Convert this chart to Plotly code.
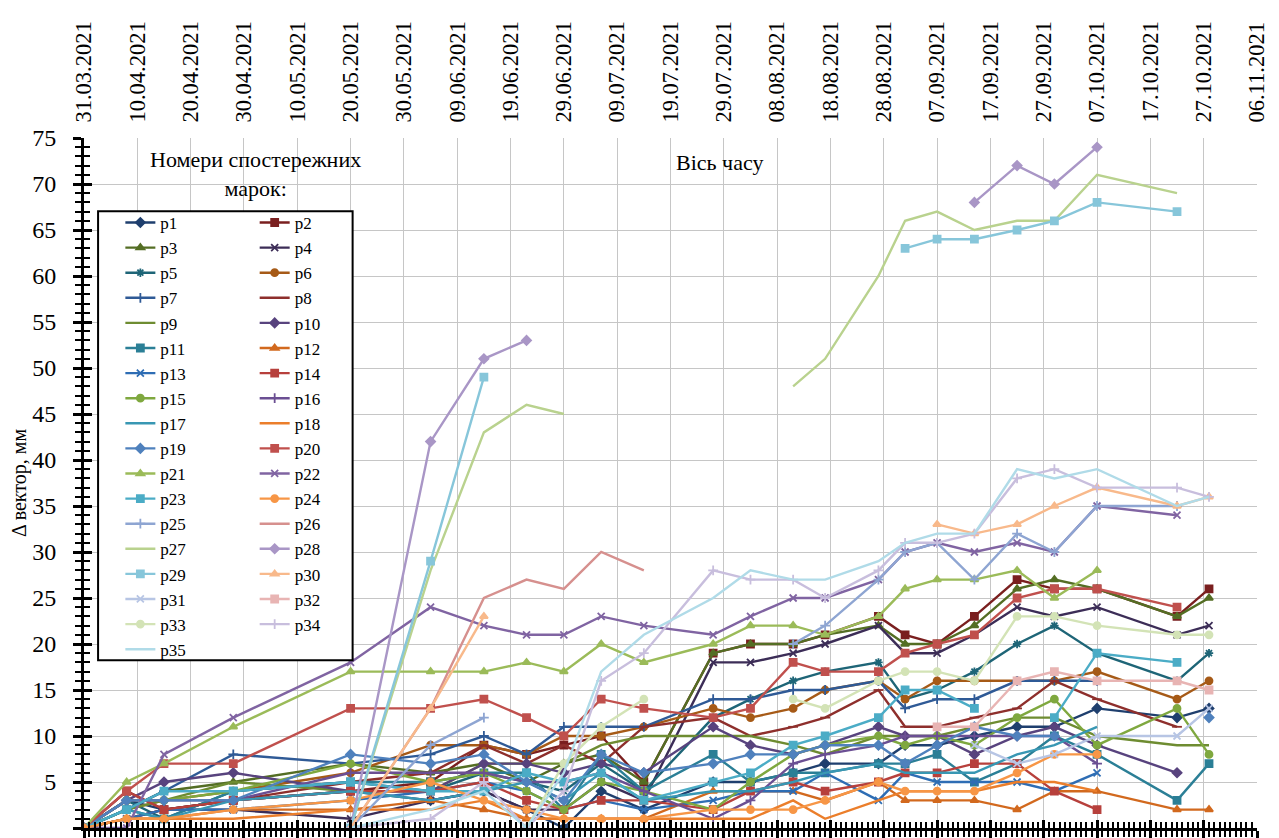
import plotly.graph_objects as go

N = None

# observation dates
dates = ['2021-03-31', '2021-04-08', '2021-04-15', '2021-04-28', '2021-05-20', '2021-06-04',
         '2021-06-14', '2021-06-22', '2021-06-29', '2021-07-06', '2021-07-14', '2021-07-27',
         '2021-08-03', '2021-08-11', '2021-08-17', '2021-08-27', '2021-09-01', '2021-09-07',
         '2021-09-14', '2021-09-22', '2021-09-29', '2021-10-07', '2021-10-22', '2021-10-28']

# displacement vector per mark, mm
p1 = [0, 3, 2, 3, 4, 3, 4, 2, 0, 4, 2, 5, 5, 6, 7, 7, 9, 9, 10, 11, 11, 13, 12, 13]
p2 = [0, 4, 2, 3, 4, 5, 9, 8, 9, 10, 5, 19, 20, 20, 21, 23, 21, 20, 23, 27, 26, 26, 23, 26]
p3 = [0, 2, 4, 5, 7, 6, 7, 5, 7, 8, 5, 19, 20, 20, 21, 22, 20, 20, 22, 26, 27, 26, 23, 25]
p4 = [0, 1, 2, 2, 1, 3, 4, 2, 2, 5, 3, 18, 18, 19, 20, 22, 19, 19, 21, 24, 23, 24, 21, 22]
p5 = [0, 3, 1, 4, 5, 4, 6, 5, 4, 7, 4, 12, 14, 16, 17, 18, 14, 15, 17, 20, 22, 19, 16, 19]
p6 = [0, 2, 3, 4, 6, 9, 9, 8, 10, 10, 11, 13, 12, 13, 15, 16, 14, 16, 16, 16, 16, 17, 14, 16]
p7 = [0, 2, 4, 8, 7, 8, 10, 8, 11, 11, 11, 14, 14, 15, 15, 16, 13, 14, 14, 16, 16, 16, N, N]
p8 = [0, 1, 2, 3, 5, 6, 9, 7, 9, 7, 11, 12, 10, 11, 12, 15, 11, 11, 12, 13, 16, 14, 11, N]
p9 = [0, 2, 3, 5, 4, 4, 7, 7, 7, 9, 10, 10, 10, 9, 8, 10, 10, 10, 11, 12, 12, 10, 9, 9]
p10 = [0, 3, 5, 6, 4, 4, 7, 7, 6, 7, 6, 11, 9, 8, 9, 11, 10, 10, 8, 10, 11, 9, 6, N]
p11 = [0, 2, 1, 4, 5, 5, 6, 6, 2, 8, 4, 8, 5, 6, 6, 7, 7, 8, 5, 7, 10, 8, 3, 7]
p12 = [0, 1, 1, 2, 2, 3, 2, 1, 1, 1, 1, 4, 4, 4, 3, 5, 3, 3, 3, 2, 4, 4, 2, 2]
p13 = [0, 1, 2, 2, 3, 4, 5, 4, 2, 3, 2, 3, 4, 4, 6, 3, 6, 5, 5, 5, 4, 6, N, N]
p14 = [0, 4, 2, 3, 4, 4, 5, 3, 2, 3, 3, 2, 4, 5, 4, 5, 6, 6, 7, 7, 4, 2, N, N]
p15 = [0, 3, 3, 4, 7, 5, 6, 4, 2, 5, 4, 2, 5, 8, 9, 10, 9, 10, 9, 12, 14, 9, 13, 8]
p16 = [0, 3, 3, 3, 6, 6, 6, 5, 5, 6, 4, 1, 3, 7, 8, 9, 10, 10, 10, 10, 10, 7, N, N]
p17 = [0, 2, 1, 3, 4, 3, 4, 5, 3, 6, 3, 4, 4, 5, 6, 7, 6, 6, 6, 8, 9, 11, N, N]
p18 = [0, 1, 1, 1, 2, 2, 3, 1, 1, 1, 1, 1, 1, 3, 1, 3, 4, 4, 4, 5, 5, 4, N, N]
p19 = [0, 3, 3, 3, 8, 7, 8, 5, 3, 8, 6, 7, 8, 8, 9, 9, 7, 9, 11, 10, 10, N, N, 12]
p20 = [0, 4, 7, 7, 13, 13, 14, 12, 10, 14, 13, 12, 13, 18, 17, 17, 19, 20, 21, 25, 26, 26, 24, N]
p21 = [0, 5, 7, 11, 17, 17, 17, 18, 17, 20, 18, 20, 22, 22, 21, 23, 26, 27, 27, 28, 25, 28, N, N]
p22 = [0, 0, 8, 12, 18, 24, 22, 21, 21, 23, 22, 21, 23, 25, 25, 27, 30, 31, 30, 31, 30, 35, 34, N]
p23 = [0, 2, 4, 4, 5, 4, 4, 6, 5, 6, 3, 5, 6, 9, 10, 12, 15, 15, 13, N, 12, 19, 18, N]
p24 = [0, 1, 1, 2, 3, 5, 3, 2, 1, 1, 1, 2, 2, 2, 3, 5, 4, 4, 4, 6, 8, 8, N, N]
p25 = [N, N, N, N, 0, 9, 12, N, N, N, N, N, N, 20, 22, 27, 30, 31, 27, 32, 30, 35, 35, N]
p26 = [N, N, N, N, 0, 13, 25, 27, 26, 30, 28, N, N, N, N, N, N, N, N, N, N, N, N, N]
p27 = [N, N, N, N, 0, 28, 43, 46, 45, N, N, N, N, 48, 51, 60, 66, 67, 65, 66, 66, 71, 69, N]
p28 = [N, N, N, N, 0, 42, 51, 53, N, N, N, N, N, N, N, N, N, N, 68, 72, 70, 74, N, N]
p29 = [N, N, N, N, 0, 29, 49, N, N, N, N, N, N, N, N, N, 63, 64, 64, 65, 66, 68, 67, N]
p30 = [N, N, N, N, 0, 13, 23, N, N, N, N, N, N, N, N, N, N, 33, 32, 33, 35, 37, 35, 36]
p31 = [N, N, N, N, N, N, N, N, N, N, N, N, N, N, N, N, N, N, 9, 7, 8, 10, 10, 13]
p32 = [N, N, N, N, N, N, N, N, N, N, N, N, N, N, N, N, N, 11, 11, 16, 17, 16, 16, 15]
p33 = [N, N, N, N, N, N, N, 0, 7, 11, 14, N, N, 14, 13, 16, 17, 17, 16, 23, 23, 22, 21, 21]
p34 = [N, N, N, N, 0, 1, 5, 0, 4, 16, 19, 28, 27, 27, 25, 28, 31, 31, 32, 38, 39, 37, 37, 36]
p35 = [N, N, N, N, 0, 2, 4, 0, 6, 17, 21, 25, 28, 27, 27, 29, 31, 32, 32, 39, 38, 39, 35, 36]

series = [p1, p2, p3, p4, p5, p6, p7, p8, p9, p10, p11, p12, p13, p14, p15, p16, p17, p18,
          p19, p20, p21, p22, p23, p24, p25, p26, p27, p28, p29, p30, p31, p32, p33, p34, p35]
names = ['p%d' % (i + 1) for i in range(len(series))]

# six colour families, darker -> lighter shades
shades = [
    ['#1F3F6E', '#7A1F1F', '#546E24', '#3C2D57', '#1E6577', '#A65A17'],
    ['#2F5A96', '#8E2F2C', '#6E8C31', '#58437E', '#2B7F96', '#D2691E'],
    ['#2E6DB4', '#B7403C', '#7FA83F', '#6B4F93', '#3897B3', '#EB7E2B'],
    ['#4F81BD', '#C0504D', '#9BBB59', '#8064A2', '#4BACC6', '#F79646'],
    ['#8EA5D2', '#D6908E', '#B9D28E', '#A996C6', '#87C6DA', '#F8B98B'],
    ['#B7C5E4', '#E8B4B3', '#D3E3B6', '#C8BEDD', '#B0DBE8', '#F8CBAD'],
]
symbols = ['diamond', 'square', 'triangle-up', 'x-thin', 'asterisk', 'circle',
           'cross-thin', 'line-ew', None, 'diamond', 'square', 'triangle-up',
           'x-thin', 'square', 'circle', 'cross-thin', None, None,
           'diamond', 'square', 'triangle-up', 'x-thin', 'square', 'circle',
           'cross-thin', None, None, 'diamond', 'square', 'triangle-up',
           'x-thin', 'square', 'circle', 'cross-thin', None]

serif = 'Liberation Serif, Times New Roman, serif'
grid = '#C6C6C6'
DAY = 86400000

fig = go.Figure()
for i, vals in enumerate(series):
    c = shades[i // 6][i % 6]
    sym = symbols[i]
    fig.add_trace(go.Scatter(
        x=dates, y=vals, name=names[i],
        mode='lines' if sym is None else 'lines+markers',
        line=dict(color=c, width=2.4),
        marker=dict(symbol=sym or 'circle', size=7, color=c, line=dict(color=c, width=1.8)),
        legend='legend' if i % 2 == 0 else 'legend2',
        connectgaps=False,
    ))

# empty traces so the extra tick axes get drawn
fig.add_trace(go.Scatter(x=[N], y=[N], xaxis='x2', yaxis='y2', showlegend=False, hoverinfo='skip'))
fig.add_trace(go.Scatter(x=[N], y=[N], xaxis='x3', yaxis='y2', showlegend=False, hoverinfo='skip'))

xrange = ['2021-03-31', '2021-11-06']
# page body has an 8px margin, so the figure is 8px smaller and shifted
fig.update_layout(
    width=1271, height=830,
    margin=dict(l=76, r=22, t=130, b=10),
    paper_bgcolor='white', plot_bgcolor='white',
    font=dict(family=serif, size=22, color='black'),
    xaxis=dict(type='date', range=xrange, side='top', anchor='y', automargin=False,
               tick0='2021-03-31', dtick=10 * DAY, tickformat='%d.%m.%Y', tickangle=-90,
               ticks='outside', ticklen=10, tickcolor='rgba(0,0,0,0)',
               tickfont=dict(family=serif, size=22.5, color='black'),
               showgrid=True, gridcolor=grid, gridwidth=1.3, showline=False, zeroline=False),
    xaxis2=dict(type='date', range=xrange, overlaying='x', side='bottom', anchor='y2', automargin=False,
                showticklabels=False, showgrid=False, zeroline=False,
                showline=True, linecolor='black', linewidth=3,
                tick0='2021-03-31', dtick=10 * DAY, ticks='outside', ticklen=8, tickwidth=2.5, tickcolor='black',
                minor=dict(tick0='2021-03-31', dtick=DAY, ticks='outside', ticklen=6, tickwidth=2, tickcolor='black')),
    xaxis3=dict(type='date', range=xrange, overlaying='x', side='bottom', anchor='y2', automargin=False,
                showticklabels=False, showgrid=False, zeroline=False, showline=False,
                tick0='2021-03-31', dtick=10 * DAY, ticks='inside', ticklen=8, tickwidth=2.5, tickcolor='black',
                minor=dict(tick0='2021-03-31', dtick=DAY, ticks='inside', ticklen=6, tickwidth=2, tickcolor='black')),
    yaxis=dict(range=[0, 75], dtick=5, anchor='x', automargin=False,
               showgrid=True, gridcolor=grid, gridwidth=1.3,
               zeroline=False, showline=True, linecolor='black', linewidth=3,
               ticks='outside', ticklen=8, tickwidth=2.5, tickcolor='black',
               minor=dict(dtick=1, ticks='outside', ticklen=6, tickwidth=2, tickcolor='black'),
               tickfont=dict(family=serif, size=24, color='black'), ticklabelstandoff=12,
               title=dict(text='Δ вектор, мм', font=dict(family=serif, size=20), standoff=6)),
    yaxis2=dict(range=[0, 75], overlaying='y', side='left', anchor='x2', automargin=False,
                showgrid=False, zeroline=False, showticklabels=False, showline=False,
                dtick=5, ticks='inside', ticklen=8, tickwidth=2.5, tickcolor='black',
                minor=dict(dtick=1, ticks='inside', ticklen=6, tickwidth=2, tickcolor='black')),
    legend=dict(x=0.031, y=0.903, xanchor='left', yanchor='top', bgcolor='rgba(0,0,0,0)',
                font=dict(family=serif, size=17, color='black'), tracegroupgap=0, borderwidth=0),
    legend2=dict(x=0.1455, y=0.903, xanchor='left', yanchor='top', bgcolor='rgba(0,0,0,0)',
                 font=dict(family=serif, size=17, color='black'), tracegroupgap=0, borderwidth=0),
    showlegend=True,
)

# white patches behind the captions, legend frame
fig.add_shape(type='rect', xref='paper', yref='paper', x0=0.0, x1=0.2805, y0=0.899, y1=1.003,
              fillcolor='white', line=dict(width=0), layer='between')
fig.add_shape(type='rect', xref='paper', yref='paper', x0=0.498, x1=0.59, y0=0.942, y1=1.003,
              fillcolor='white', line=dict(width=0), layer='between')
fig.add_shape(type='rect', xref='paper', yref='paper', x0=0.012, x1=0.229, y0=0.243, y1=0.894,
              fillcolor='white', line=dict(color='black', width=2), layer='above')

fig.add_annotation(text='Номери спостережних<br>марок:', xref='paper', yref='paper',
                   x=0.1458, y=0.99, xanchor='center', yanchor='top', showarrow=False,
                   font=dict(family=serif, size=22, color='black'))
fig.add_annotation(text='Вісь часу', xref='paper', yref='paper',
                   x=0.542, y=0.965, xanchor='center', yanchor='middle', showarrow=False,
                   font=dict(family=serif, size=22, color='black'))

fig.write_html('out.html')
